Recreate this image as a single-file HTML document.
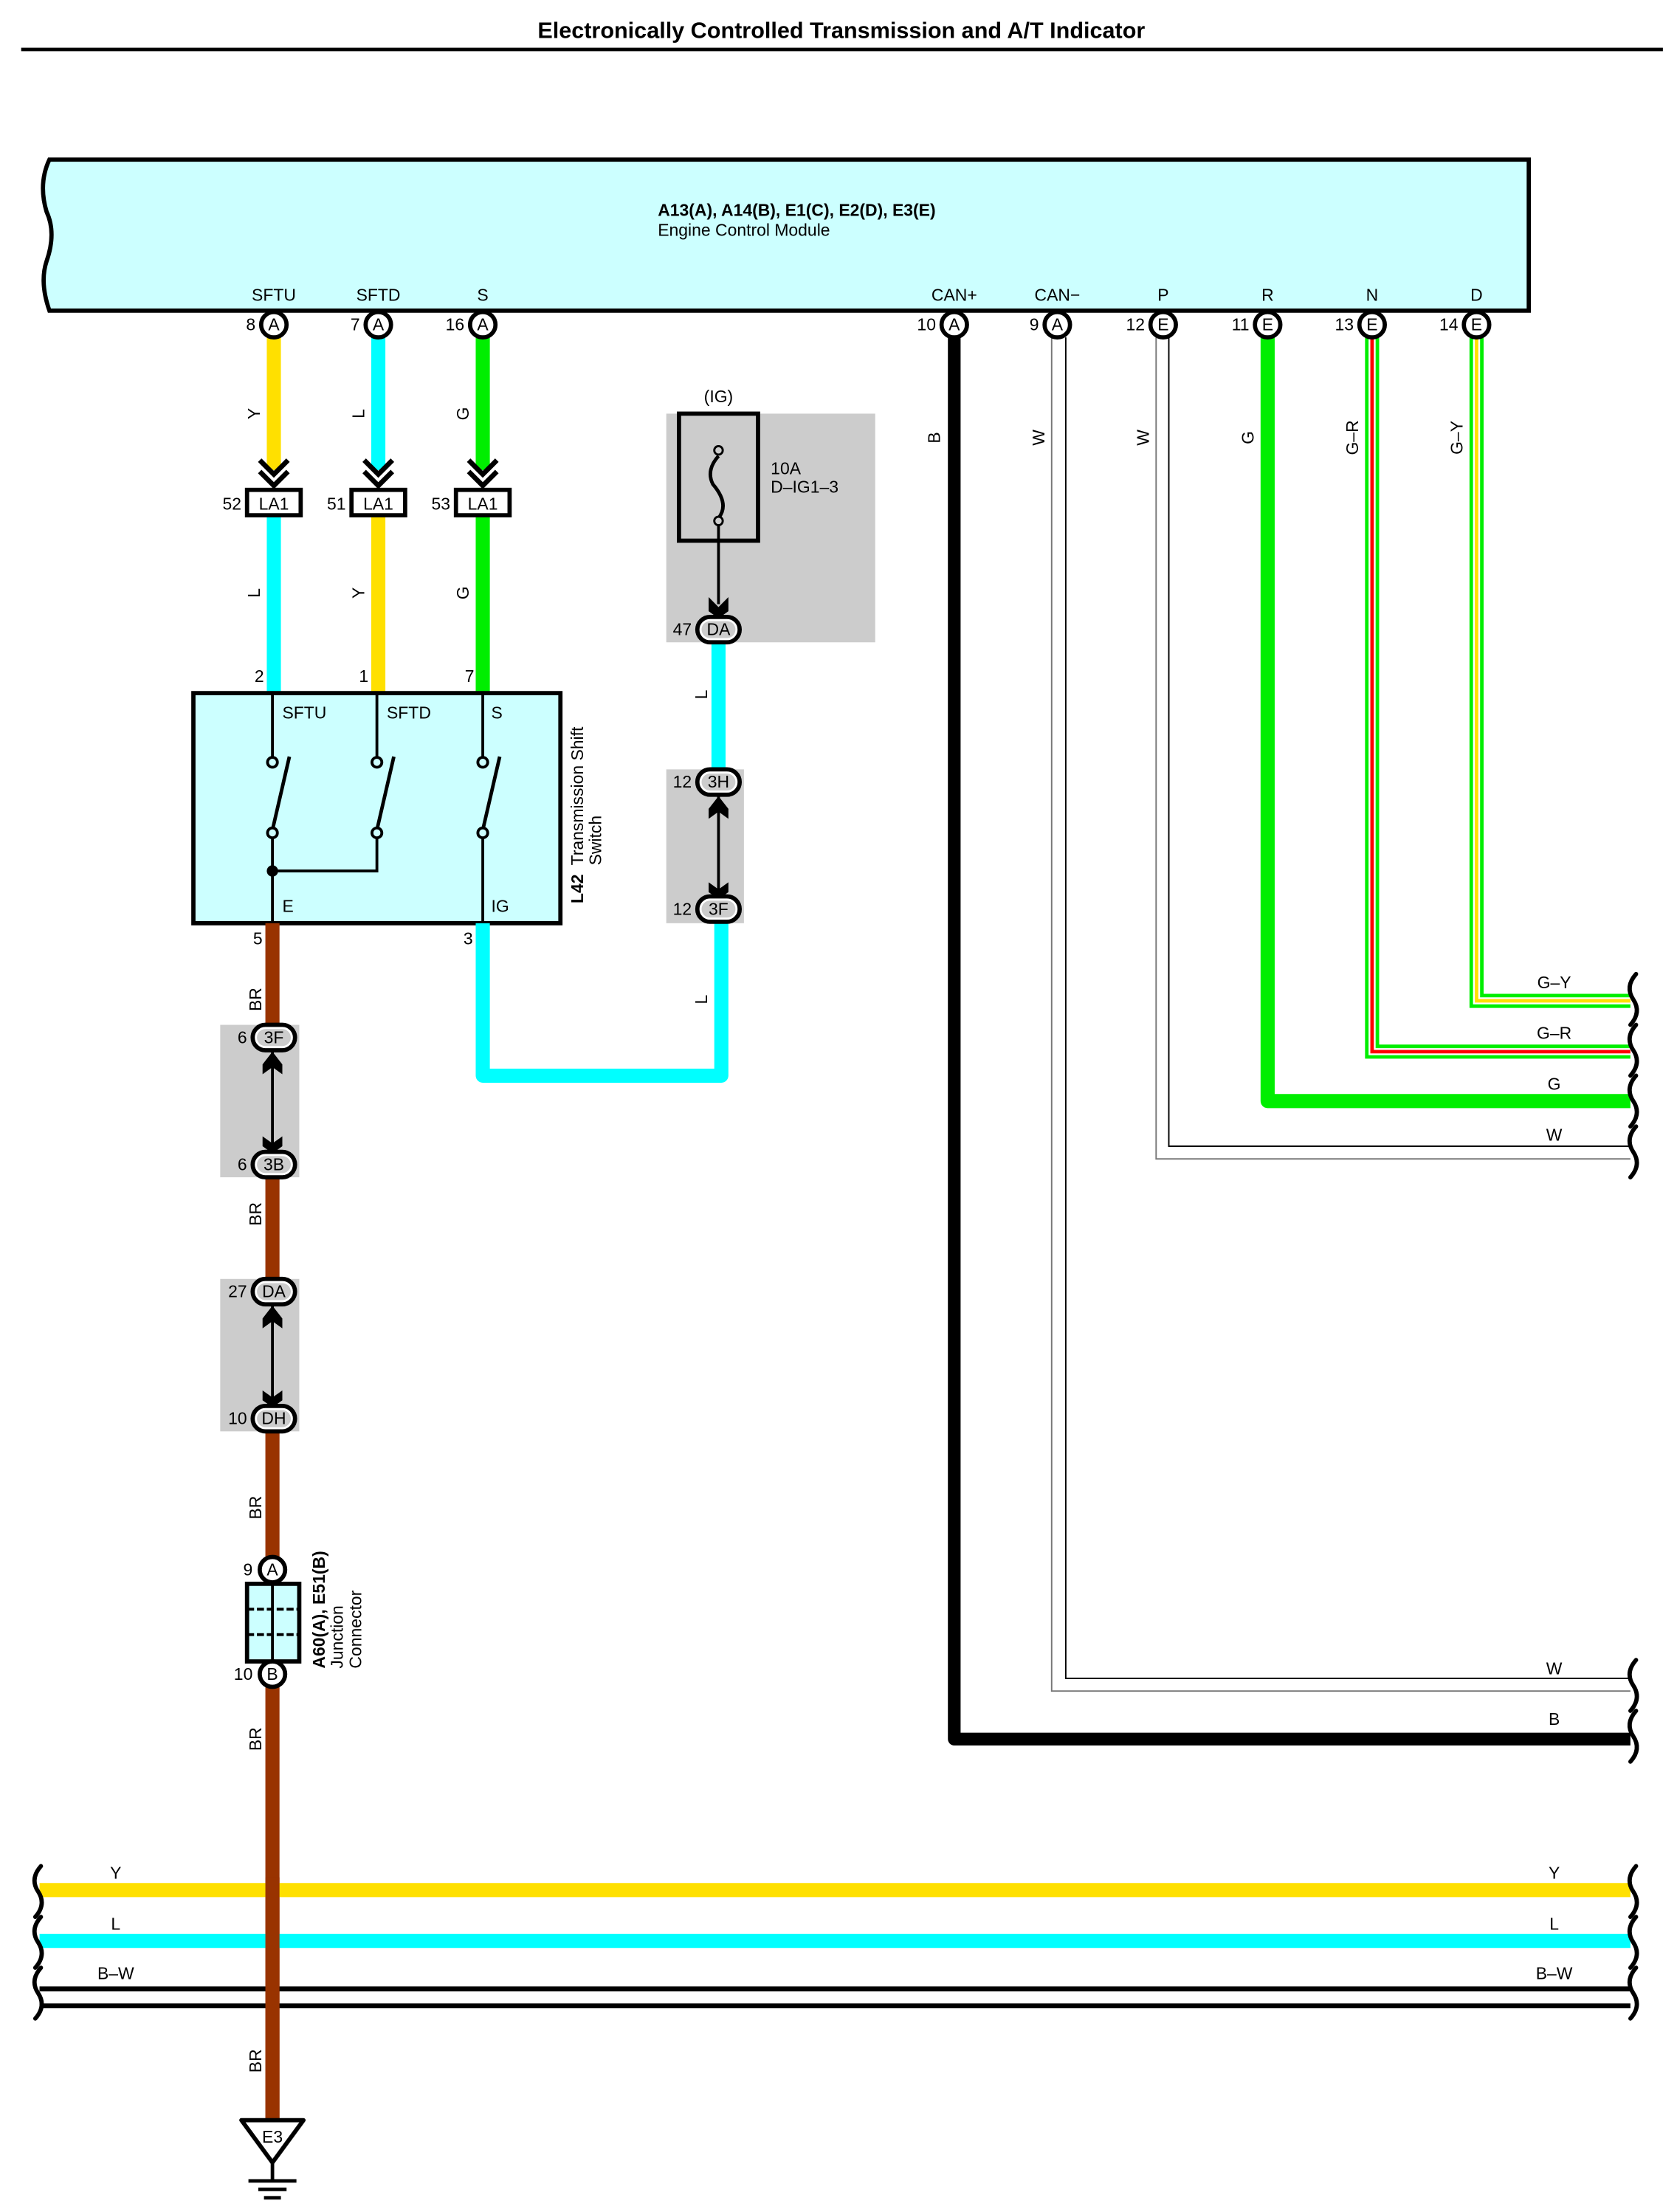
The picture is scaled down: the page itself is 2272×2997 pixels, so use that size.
<!DOCTYPE html>
<html><head><meta charset="utf-8"><style>html,body{margin:0;padding:0;background:#fff}svg{display:block}</style></head><body>
<svg xmlns="http://www.w3.org/2000/svg" width="2272" height="2997" viewBox="0 0 1188 1567" font-family="Liberation Sans, Arial, sans-serif" font-size="12">
<defs>
<path id="wv" d="M2 0 Q-6 9 0 18 Q6 27 -2 36" fill="none" stroke="#000" stroke-width="3" stroke-linecap="round"/>
</defs>
<rect width="1188" height="1567" fill="#fff"/>
<text x="596" y="27" text-anchor="middle" font-weight="bold" font-size="16">Electronically Controlled Transmission and A/T Indicator</text>
<line x1="15" y1="35" x2="1178" y2="35" stroke="#000" stroke-width="2.5"/>

<!-- ECM -->
<path d="M35 113 L1083 113 L1083 220 L35 220 Q28 200 33 185 Q40 165 33 150 Q27 130 35 113 Z" fill="#ccffff" stroke="#000" stroke-width="3"/>
<text x="466" y="153" font-weight="bold">A13(A), A14(B), E1(C), E2(D), E3(E)</text>
<text x="466" y="167">Engine Control Module</text>
<g text-anchor="middle">
<text x="194" y="213">SFTU</text><text x="268" y="213">SFTD</text><text x="342" y="213">S</text>
<text x="676" y="213">CAN+</text><text x="749" y="213">CAN−</text><text x="824" y="213">P</text>
<text x="898" y="213">R</text><text x="972" y="213">N</text><text x="1046" y="213">D</text>
</g>

<!-- right side wires -->
<path d="M676 239 V1232 H1155" fill="none" stroke="#000" stroke-width="9" stroke-linejoin="round"/>
<path d="M745 239 V1198 H1155" fill="none" stroke="#777" stroke-width="1"/>
<path d="M755 239 V1189 H1155" fill="none" stroke="#000" stroke-width="1"/>
<path d="M819 239 V821 H1155" fill="none" stroke="#777" stroke-width="1"/>
<path d="M828 239 V812 H1155" fill="none" stroke="#000" stroke-width="1"/>
<path d="M898 239 V780 H1155" fill="none" stroke="#00ee00" stroke-width="10" stroke-linejoin="round"/>
<path d="M972 239 V745 H1155" fill="none" stroke="#00ee00" stroke-width="10"/>
<path d="M972 239 V745 H1155" fill="none" stroke="#fff" stroke-width="5"/>
<path d="M972 239 V745 H1155" fill="none" stroke="#ff0000" stroke-width="2.5"/>
<path d="M1046 239 V709 H1155" fill="none" stroke="#00ee00" stroke-width="10"/>
<path d="M1046 239 V709 H1155" fill="none" stroke="#fff" stroke-width="5"/>
<path d="M1046 239 V709 H1155" fill="none" stroke="#ffe000" stroke-width="2.5"/>
<g text-anchor="middle">
<text x="1101" y="700">G–Y</text><text x="1101" y="736">G–R</text><text x="1101" y="772">G</text><text x="1101" y="808">W</text>
<text x="1101" y="1186">W</text><text x="1101" y="1222">B</text>
</g>
<use href="#wv" x="1157" y="690"/><use href="#wv" x="1157" y="726"/><use href="#wv" x="1157" y="762"/><use href="#wv" x="1157" y="798"/>
<use href="#wv" x="1157" y="1176"/><use href="#wv" x="1157" y="1212"/>
<g font-size="12" text-anchor="middle">
<text transform="translate(666,310) rotate(-90)">B</text>
<text transform="translate(740,310) rotate(-90)">W</text>
<text transform="translate(814,310) rotate(-90)">W</text>
<text transform="translate(888,310) rotate(-90)">G</text>
<text transform="translate(962,310) rotate(-90)">G–R</text>
<text transform="translate(1036,310) rotate(-90)">G–Y</text>
</g>

<!-- left upper wires -->
<line x1="194" y1="239" x2="194" y2="333" stroke="#ffe000" stroke-width="10"/>
<line x1="268" y1="239" x2="268" y2="333" stroke="#00ffff" stroke-width="10"/>
<line x1="342" y1="239" x2="342" y2="333" stroke="#00ee00" stroke-width="10"/>
<line x1="194" y1="365" x2="194" y2="491" stroke="#00ffff" stroke-width="10"/>
<line x1="268" y1="365" x2="268" y2="491" stroke="#ffe000" stroke-width="10"/>
<line x1="342" y1="365" x2="342" y2="491" stroke="#00ee00" stroke-width="10"/>
<g fill="none" stroke="#000" stroke-width="3.5">
<path d="M184 326 L194 336 L204 326 M184 334 L194 344 L204 334"/>
<path d="M258 326 L268 336 L278 326 M258 334 L268 344 L278 334"/>
<path d="M332 326 L342 336 L352 326 M332 334 L342 344 L352 334"/>
</g>
<g fill="#fff" stroke="#000" stroke-width="3">
<rect x="175" y="347" width="38" height="18"/><rect x="249" y="347" width="38" height="18"/><rect x="323" y="347" width="38" height="18"/>
</g>
<g text-anchor="middle"><text x="194" y="361">LA1</text><text x="268" y="361">LA1</text><text x="342" y="361">LA1</text></g>
<g text-anchor="end"><text x="171" y="361">52</text><text x="245" y="361">51</text><text x="319" y="361">53</text></g>
<g text-anchor="middle">
<text transform="translate(184,293) rotate(-90)">Y</text>
<text transform="translate(258,293) rotate(-90)">L</text>
<text transform="translate(332,293) rotate(-90)">G</text>
<text transform="translate(184,420) rotate(-90)">L</text>
<text transform="translate(258,420) rotate(-90)">Y</text>
<text transform="translate(332,420) rotate(-90)">G</text>
</g>
<g text-anchor="end"><text x="187" y="483">2</text><text x="261" y="483">1</text><text x="336" y="483">7</text></g>

<!-- pin circles top -->
<g fill="#fff" stroke="#000" stroke-width="3">
<circle cx="194" cy="230" r="9"/><circle cx="268" cy="230" r="9"/><circle cx="342" cy="230" r="9"/>
<circle cx="676" cy="230" r="9"/><circle cx="749" cy="230" r="9"/><circle cx="824" cy="230" r="9"/>
<circle cx="898" cy="230" r="9"/><circle cx="972" cy="230" r="9"/><circle cx="1046" cy="230" r="9"/>
</g>
<g text-anchor="middle">
<text x="194" y="234">A</text><text x="268" y="234">A</text><text x="342" y="234">A</text>
<text x="676" y="234">A</text><text x="749" y="234">A</text><text x="824" y="234">E</text>
<text x="898" y="234">E</text><text x="972" y="234">E</text><text x="1046" y="234">E</text>
</g>
<g text-anchor="end">
<text x="181" y="234">8</text><text x="255" y="234">7</text><text x="329" y="234">16</text>
<text x="663" y="234">10</text><text x="736" y="234">9</text><text x="811" y="234">12</text>
<text x="885" y="234">11</text><text x="959" y="234">13</text><text x="1033" y="234">14</text>
</g>

<!-- switch -->
<rect x="137" y="491" width="260" height="163" fill="#ccffff" stroke="#000" stroke-width="3"/>
<g stroke="#000" stroke-width="2" fill="none">
<path d="M193 491 V536 M193 594 V654 M267 491 V536 M267 594 V617 H193 M342 491 V536 M342 594 V654"/>
<path d="M193 588 L205 536 M267 588 L279 536 M342 588 L354 536" stroke-width="2.5"/>
</g>
<g fill="#ccffff" stroke="#000" stroke-width="2">
<circle cx="193" cy="540" r="3.5"/><circle cx="193" cy="590" r="3.5"/>
<circle cx="267" cy="540" r="3.5"/><circle cx="267" cy="590" r="3.5"/>
<circle cx="342" cy="540" r="3.5"/><circle cx="342" cy="590" r="3.5"/>
</g>
<circle cx="193" cy="617" r="4" fill="#000"/>
<text x="200" y="509">SFTU</text><text x="274" y="509">SFTD</text><text x="348" y="509">S</text>
<text x="200" y="646">E</text><text x="348" y="646">IG</text>
<g transform="translate(413,640) rotate(-90)">
<text x="0" y="0" font-weight="bold">L42</text>
<text x="27" y="0">Transmission Shift</text>
<text x="27" y="13">Switch</text>
</g>
<text x="186" y="669" text-anchor="end">5</text><text x="335" y="669" text-anchor="end">3</text>

<!-- IG circuit -->
<rect x="472" y="293" width="148" height="162" fill="#cccccc"/>
<rect x="472" y="545" width="55" height="109" fill="#cccccc"/>
<path d="M342 654 V762 H511 V652" fill="none" stroke="#00ffff" stroke-width="10" stroke-linejoin="round"/>
<line x1="509" y1="455" x2="509" y2="546" stroke="#00ffff" stroke-width="10"/>
<rect x="481" y="293" width="56" height="90" fill="none" stroke="#000" stroke-width="3"/>
<path d="M509 323 Q500 333 505 343 Q517 357 509 367" fill="none" stroke="#000" stroke-width="2.5"/>
<circle cx="509" cy="319" r="3" fill="#ccc" stroke="#000" stroke-width="1.5"/>
<circle cx="509" cy="369" r="3" fill="#ccc" stroke="#000" stroke-width="1.5"/>
<line x1="509" y1="372" x2="509" y2="428" stroke="#000" stroke-width="2"/>
<path d="M502 423 L509 430 L516 423 L516 433 L509 438 L502 433 Z" fill="#000"/>
<text x="509" y="285" text-anchor="middle">(IG)</text>
<text x="546" y="336">10A</text><text x="546" y="349">D–IG1–3</text>
<line x1="509" y1="563" x2="509" y2="635" stroke="#000" stroke-width="2"/>
<path d="M502 573 L509 564 L516 573 L516 580 L509 575 L502 580 Z" fill="#000"/>
<path d="M502 625 L509 630 L516 625 L516 632 L509 637 L502 632 Z" fill="#000"/>
<g text-anchor="middle">
<text transform="translate(501,492) rotate(-90)">L</text>
<text transform="translate(501,708) rotate(-90)">L</text>
</g>

<!-- BR wire -->
<line x1="193" y1="654" x2="193" y2="1502" stroke="#993300" stroke-width="10"/>
<rect x="156" y="726" width="56" height="108" fill="#cccccc"/>
<rect x="156" y="906" width="56" height="108" fill="#cccccc"/>
<g stroke="#000" stroke-width="2">
<line x1="193" y1="745" x2="193" y2="815"/><line x1="193" y1="925" x2="193" y2="995"/>
</g>
<g fill="#000">
<path d="M186 754 L193 745 L200 754 L200 761 L193 756 L186 761 Z"/>
<path d="M186 805 L193 810 L200 805 L200 812 L193 817 L186 812 Z"/>
<path d="M186 934 L193 925 L200 934 L200 941 L193 936 L186 941 Z"/>
<path d="M186 985 L193 990 L200 985 L200 992 L193 997 L186 992 Z"/>
</g>

<!-- ovals -->
<g fill="#fff" stroke="#000" stroke-width="3">
<rect x="179" y="726" width="30" height="18" rx="9"/>
<rect x="179" y="816" width="30" height="18" rx="9"/>
<rect x="179" y="906" width="30" height="18" rx="9"/>
<rect x="179" y="996" width="30" height="18" rx="9"/>
<rect x="494" y="437" width="30" height="18" rx="9"/>
<rect x="494" y="545" width="30" height="18" rx="9"/>
<rect x="494" y="635" width="30" height="18" rx="9"/>
</g>
<g fill="#ccc"><rect x="182" y="729" width="24" height="12" rx="6"/><rect x="182" y="819" width="24" height="12" rx="6"/><rect x="182" y="909" width="24" height="12" rx="6"/><rect x="182" y="999" width="24" height="12" rx="6"/><rect x="497" y="440" width="24" height="12" rx="6"/><rect x="497" y="548" width="24" height="12" rx="6"/><rect x="497" y="638" width="24" height="12" rx="6"/></g>
<g text-anchor="middle">
<text x="194" y="739">3F</text><text x="194" y="829">3B</text><text x="194" y="919">DA</text><text x="194" y="1009">DH</text>
<text x="509" y="450">DA</text><text x="509" y="558">3H</text><text x="509" y="648">3F</text>
</g>
<g text-anchor="end">
<text x="175" y="739">6</text><text x="175" y="829">6</text><text x="175" y="919">27</text><text x="175" y="1009">10</text>
<text x="490" y="450">47</text><text x="490" y="558">12</text><text x="490" y="648">12</text>
</g>
<g text-anchor="middle">
<text transform="translate(185,708) rotate(-90)">BR</text>
<text transform="translate(185,860) rotate(-90)">BR</text>
<text transform="translate(185,1068) rotate(-90)">BR</text>
<text transform="translate(185,1232) rotate(-90)">BR</text>
<text transform="translate(185,1460) rotate(-90)">BR</text>
</g>

<!-- junction connector -->
<rect x="175" y="1122" width="37" height="55" fill="#ccffff" stroke="#000" stroke-width="3"/>
<g stroke="#000" stroke-width="2"><line x1="193" y1="1122" x2="193" y2="1177"/><line x1="175" y1="1140" x2="212" y2="1140" stroke-dasharray="5 2"/><line x1="175" y1="1158" x2="212" y2="1158" stroke-dasharray="5 2"/></g>
<circle cx="193" cy="1112" r="9" fill="#fff" stroke="#000" stroke-width="3"/>
<circle cx="193" cy="1186" r="9" fill="#fff" stroke="#000" stroke-width="3"/>
<text x="193" y="1116" text-anchor="middle">A</text><text x="193" y="1190" text-anchor="middle">B</text>
<text x="179" y="1116" text-anchor="end">9</text><text x="179" y="1190" text-anchor="end">10</text>
<g transform="translate(230,1182) rotate(-90)">
<text x="0" y="0" font-weight="bold">A60(A), E51(B)</text>
<text x="0" y="13">Junction</text>
<text x="0" y="26">Connector</text>
</g>

<!-- bottom bus -->
<line x1="28" y1="1339" x2="1155" y2="1339" stroke="#ffe000" stroke-width="10"/>
<line x1="28" y1="1375" x2="1155" y2="1375" stroke="#00ffff" stroke-width="10"/>
<line x1="28" y1="1409" x2="1155" y2="1409" stroke="#000" stroke-width="3.5"/>
<line x1="28" y1="1421" x2="1155" y2="1421" stroke="#000" stroke-width="3.5"/>
<line x1="193" y1="1330" x2="193" y2="1502" stroke="#993300" stroke-width="10"/>
<g text-anchor="middle">
<text x="82" y="1331">Y</text><text x="82" y="1367">L</text><text x="82" y="1402">B–W</text>
<text x="1101" y="1331">Y</text><text x="1101" y="1367">L</text><text x="1101" y="1402">B–W</text>
</g>
<use href="#wv" x="27" y="1322"/><use href="#wv" x="27" y="1358"/><use href="#wv" x="27" y="1394"/>
<use href="#wv" x="1157" y="1322"/><use href="#wv" x="1157" y="1358"/><use href="#wv" x="1157" y="1394"/>

<!-- ground -->
<path d="M171 1502 L215 1502 L193 1532 Z" fill="#fff" stroke="#000" stroke-width="3" stroke-linejoin="round"/>
<text x="193" y="1518" text-anchor="middle">E3</text>
<g stroke="#000" stroke-width="2.5"><line x1="193" y1="1532" x2="193" y2="1545"/><line x1="176" y1="1545" x2="210" y2="1545"/><line x1="183" y1="1551" x2="203" y2="1551"/><line x1="187" y1="1557" x2="199" y2="1557"/></g>
</svg>
</body></html>
